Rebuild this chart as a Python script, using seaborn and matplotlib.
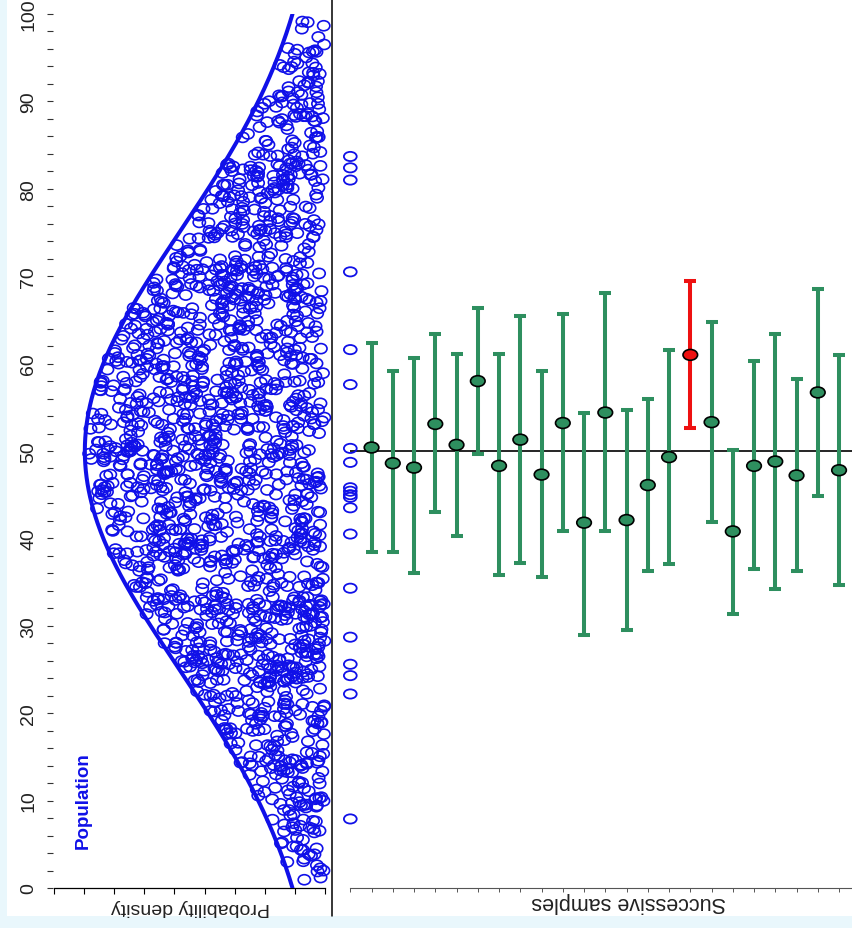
import numpy as np
import pandas as pd
import matplotlib
matplotlib.use("Agg")
import matplotlib.pyplot as plt
import seaborn as sns
from matplotlib.path import Path
from matplotlib.lines import Line2D
from matplotlib.patches import Rectangle

# ---------------------------------------------------------------- data
# population model (normal, truncated to the 0-100 scale)
POP_MEAN = 50.0
POP_SD = 25.0
POP_N = 1700

# one sample of 20 drawn from the population (left column of the right panel)
sample_values = [83.7, 82.4, 81.0, 70.5, 61.6, 57.6, 50.3, 48.7, 45.8, 45.4,
                 45.0, 44.7, 43.5, 40.5, 34.3, 28.7, 25.6, 24.3, 22.2, 7.9]

# successive samples: mean with lower / upper confidence limits
sample_index = list(range(1, 25))
sample_means = [50.4, 48.6, 48.1, 53.1, 50.7, 58.0, 48.3, 51.3, 47.3, 53.2,
                41.8, 54.4, 42.1, 46.1, 49.3, 61.0, 53.3, 40.8, 48.3, 48.8,
                47.2, 56.7, 47.8, 53.3]
ci_lower = [38.5, 38.4, 36.0, 43.0, 40.3, 49.6, 35.8, 37.2, 35.6, 40.9,
            28.9, 40.8, 29.5, 36.3, 37.1, 52.6, 41.9, 31.4, 36.5, 34.2,
            36.3, 44.8, 34.7, 43.7]
ci_upper = [62.3, 59.1, 60.6, 63.4, 61.1, 66.4, 61.1, 65.5, 59.1, 65.7,
            54.3, 68.1, 54.7, 56.0, 61.6, 69.5, 64.8, 50.1, 60.3, 63.4,
            58.2, 68.5, 61.0, 62.7]

y_major_ticks = [0, 10, 20, 30, 40, 50, 60, 70, 80, 90, 100]
density_ticks = [0.000, 0.002, 0.004, 0.006, 0.008, 0.010, 0.012, 0.014, 0.016, 0.018]

# ---------------------------------------------------------------- style
BLUE = "#1010e8"
GREEN = "#2e8f5f"
RED = "#ee1111"
BG = "#e9f7fc"

sns.set_theme(style="white")
plt.rcParams["font.family"] = ["Liberation Sans", "DejaVu Sans"]

W, H = 853, 929
fig = plt.figure(figsize=(W / 100, H / 100), dpi=100, facecolor="white")


def fx(px):
    return px / W


def fy(py):
    return 1 - py / H


# pale frame of the slide behind the plot
fig.patches.append(Rectangle((0, 0), fx(7), 1, transform=fig.transFigure,
                             facecolor=BG, edgecolor="none", zorder=0))
fig.patches.append(Rectangle((0, 0), 1, 12 / H, transform=fig.transFigure,
                             facecolor=BG, edgecolor="none", zorder=0))


def ellipse_marker(stretch):
    c = Path.unit_circle()
    return Path(c.vertices * np.array([stretch, 1.0]), c.codes)


def pop_pdf(v):
    return np.exp(-0.5 * ((v - POP_MEAN) / POP_SD) ** 2) / (POP_SD * np.sqrt(2 * np.pi))


# ---------------------------------------------------------------- left panel
ax1 = fig.add_axes([fx(53), fy(889), fx(332) - fx(53), fy(15) - fy(889)])
ax1.set_ylim(0, 100)
ax1.set_xlim(0.018073, -0.000465)

# density curve
grid = np.linspace(0, 100, 401)
curve = pd.DataFrame({"density": pop_pdf(grid), "value": grid})
sns.lineplot(data=curve, x="density", y="value", sort=False, estimator=None,
             color=BLUE, lw=2.9, ax=ax1, zorder=3)

# population cloud: members scattered under the density curve,
# placed with a quadratic Weyl sequence (even but irregular coverage)
peak = pop_pdf(POP_MEAN)
vals, dens = [], []
k = 1
while len(vals) < POP_N:
    u = (k * k * np.sqrt(2.0) + k * 0.5) % 1.0
    w = (k * k * np.sqrt(3.0) + k * 0.25) % 1.0
    k += 1
    v = 0.6 + 98.6 * w
    d = u * peak
    if d < pop_pdf(v) - 0.00020:
        vals.append(v)
        dens.append(d + 0.00004)
pop = pd.DataFrame({"density": dens, "value": vals})
sns.scatterplot(data=pop, x="density", y="value", ax=ax1,
                marker=ellipse_marker(1.22), s=78, color=BLUE,
                facecolor="none", edgecolor=BLUE, linewidth=1.2,
                clip_on=False, legend=False, zorder=2)

ax1.set_xticks(density_ticks)
ax1.set_xticklabels([])
ax1.set_yticks(y_major_ticks)
ax1.set_yticks(np.arange(0, 101, 2), minor=True)
ax1.set_yticklabels([str(t) for t in y_major_ticks], rotation=90, va="center",
                    fontsize=14, color="#222222")
ax1.tick_params(axis="y", which="both", left=True, length=4.5, width=0.8,
                color="#333333", pad=7)
ax1.tick_params(axis="x", which="both", bottom=True, length=4.5, width=0.8,
                color="black")
for s in ["top", "right", "left"]:
    ax1.spines[s].set_visible(False)
ax1.spines["bottom"].set_color("black")
ax1.spines["bottom"].set_linewidth(0.9)
ax1.spines["bottom"].set_bounds(0.0, 0.018)
ax1.set_xlabel("")
ax1.set_ylabel("")
ax1.set_facecolor("white")

# ---------------------------------------------------------------- right panel
x0_px, step_px = 350.3, 21.25
right_px = 872
ax2 = fig.add_axes([fx(332), fy(889), fx(right_px) - fx(332), fy(15) - fy(889)])
ax2.set_ylim(0, 100)
ax2.set_xlim((332 - x0_px) / step_px, (right_px - x0_px) / step_px)
ax2.set_facecolor("white")
ax2.patch.set_alpha(0)

ax2.hlines(POP_MEAN, 0, 30, color="black", lw=1.2, zorder=1)

idx = np.array(sample_index)
means = np.array(sample_means)
lo = np.array(ci_lower)
hi = np.array(ci_upper)
misses = (lo > POP_MEAN) | (hi < POP_MEAN)
bars = pd.DataFrame({"sample": idx, "mean": means, "lo": lo, "hi": hi,
                     "status": np.where(misses, "miss", "hit")})

for status, col in [("hit", GREEN), ("miss", RED)]:
    sub = bars[bars["status"] == status]
    ax2.errorbar(sub["sample"], sub["mean"],
                 yerr=[sub["mean"] - sub["lo"], sub["hi"] - sub["mean"]],
                 fmt="none", ecolor=col, elinewidth=2.9, capsize=4,
                 capthick=2.9, zorder=2)

sns.scatterplot(data=bars, x="sample", y="mean", hue="status",
                palette={"hit": GREEN, "miss": RED}, ax=ax2,
                marker=ellipse_marker(1.35), s=110, edgecolor="black",
                linewidth=1.2, legend=False, zorder=3)

samp = pd.DataFrame({"sample": np.zeros(len(sample_values)), "value": sample_values})
sns.scatterplot(data=samp, x="sample", y="value", ax=ax2,
                marker=ellipse_marker(1.39), s=85, color=BLUE,
                facecolor="none", edgecolor=BLUE, linewidth=1.3,
                clip_on=False, legend=False, zorder=3)

ax2.set_xticks(range(0, 25))
ax2.set_xticklabels([])
ax2.set_yticks([])
ax2.tick_params(axis="x", bottom=True, length=3, width=0.7, color="#555555")
for s in ["top", "right", "left"]:
    ax2.spines[s].set_visible(False)
ax2.spines["bottom"].set_color("#555555")
ax2.spines["bottom"].set_linewidth(0.8)
ax2.spines["bottom"].set_bounds(0, 30)
ax2.set_xlabel("")
ax2.set_ylabel("")

# ---------------------------------------------------------------- frame and labels
fig.add_artist(Line2D([fx(332), fx(332)], [fy(0), fy(917)],
                      transform=fig.transFigure, color="black", lw=1.1))

fig.text(fx(190), fy(908), "Probability density", rotation=180,
         ha="center", va="center", fontsize=14, color="#222222")
fig.text(fx(629), fy(903), "Successive samples", rotation=180,
         ha="center", va="center", fontsize=15.5, color="#222222")
fig.text(fx(83), fy(801), "Population", rotation=90, ha="center", va="center",
         fontsize=13.5, fontweight="bold", color=BLUE)

fig.savefig("out.png", dpi=100, facecolor=fig.get_facecolor())
